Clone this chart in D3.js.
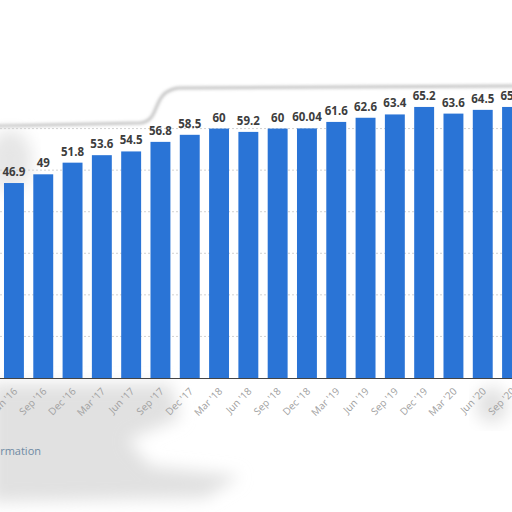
<!DOCTYPE html>
<html>
<head>
<meta charset="utf-8">
<title>Quarterly values</title>
<script type="text/javascript" src="https://cdn.jsdelivr.net/npm/d3@7/dist/d3.min.js"></script>
<style>
body { margin:0; background:#fff; }
svg { display:block; font-family:"Open Sans", sans-serif; }
</style>
</head>
<body>
<div id="chart"></div>

<script>
// data
var quarters = ["Jun '16","Sep '16","Dec '16","Mar '17","Jun '17","Sep '17","Dec '17","Mar '18","Jun '18",
	"Sep '18","Dec '18","Mar '19","Jun '19","Sep '19","Dec '19","Mar '20","Jun '20","Sep '20"];
var values = [46.9, 49, 51.8, 53.6, 54.5, 56.8, 58.5, 60, 59.2, 60, 60.04, 61.6, 62.6, 63.4, 65.2, 63.6, 64.5, 65.2];
var gridTicks = [10, 20, 30, 40, 50, 60];

var W = 512, H = 512;
var svg = d3.select("#chart").append("svg").attr("width", W).attr("height", H);

var x = d3.scaleBand().domain(quarters).range([-0.7, 526.7]).paddingInner(0.32).paddingOuter(0.16);
var y = d3.scaleLinear().domain([0, 70]).range([378, 87]);

var defs = svg.append("defs");
defs.append("filter").attr("id","blur").attr("x","-20%").attr("y","-20%").attr("width","140%").attr("height","140%")
	.append("feGaussianBlur").attr("stdDeviation", 8);
defs.append("filter").attr("id","soft")
	.append("feGaussianBlur").attr("stdDeviation", 1.5);

// grey smudges of the photo
svg.append("path")
	.attr("d","M-10,384 L170,384 L180,418 L128,440 L150,466 L240,476 L205,498 L-10,502 Z")
	.attr("fill","#e1e1e1").attr("filter","url(#blur)");
svg.append("ellipse").attr("cx",492).attr("cy",405).attr("rx",16).attr("ry",18)
	.attr("fill","#e2e2e2").attr("filter","url(#blur)");
svg.append("path")
	.attr("d","M-5,126 L140,123 C162,121 150,92 178,88 L520,86")
	.attr("fill","none").attr("stroke","#c4c4c4").attr("stroke-width",3).attr("filter","url(#soft)");
svg.append("ellipse").attr("cx",10).attr("cy",160).attr("rx",22).attr("ry",30)
	.attr("fill","#e6e6e6").attr("filter","url(#blur)");

// gridlines
svg.append("g").selectAll("line").data(gridTicks).join("line")
	.attr("x1",0).attr("x2",W)
	.attr("y1",function(d){ return y(d); }).attr("y2",function(d){ return y(d); })
	.attr("stroke","#d2d2d2").attr("stroke-dasharray","2,2");

// bars
svg.append("g").selectAll("rect").data(values).join("rect")
	.attr("x",function(d,i){ return x(quarters[i]); })
	.attr("y",function(d){ return y(d); })
	.attr("width",x.bandwidth())
	.attr("height",function(d){ return y(0) - y(d); })
	.attr("fill","#2a74d6");

// value labels
svg.append("g").selectAll("text").data(values).join("text")
	.attr("x",function(d,i){ return x(quarters[i]) + x.bandwidth()/2; })
	.attr("y",function(d){ return y(d) - 7; })
	.attr("text-anchor","middle")
	.attr("font-size",11.5).attr("font-weight","bold").attr("fill","#3d3d3d")
	.text(function(d){ return d; });

// baseline
svg.append("line").attr("x1",0).attr("x2",W).attr("y1",y(0)+0.5).attr("y2",y(0)+0.5)
	.attr("stroke","#444").attr("stroke-width",1.2);

// x axis labels
svg.append("g").selectAll("text").data(quarters).join("text")
	.attr("transform",function(d){ return "translate(" + (x(d) + x.bandwidth()/2 + 4) + "," + (y(0) + 14) + ") rotate(-45)"; })
	.attr("text-anchor","end")
	.attr("font-size",10).attr("fill","#a0a0a0")
	.text(function(d){ return d; });

// footer link
svg.append("text").attr("x",41).attr("y",455).attr("text-anchor","end")
	.attr("font-size",11).attr("fill","#6f8aa3")
	.text("Additional Information");
</script>
</body>
</html>
